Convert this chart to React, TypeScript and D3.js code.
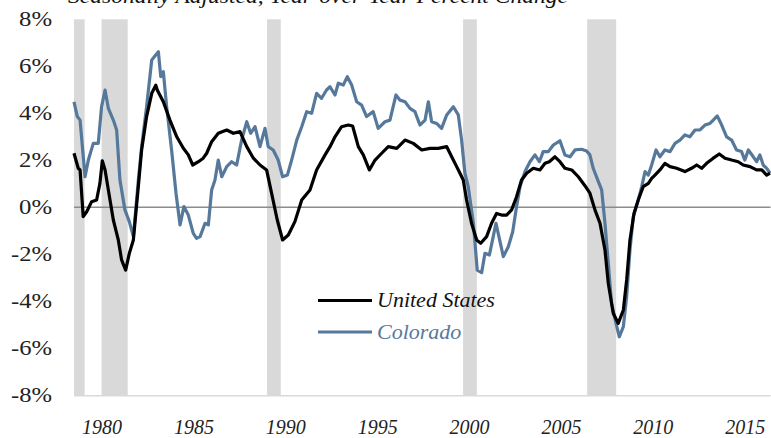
import * as d3 from 'd3';
import { useEffect } from 'react';

type Point = [number, number]; // [year, pct]

const title = 'Seasonally Adjusted, Year-over-Year Percent Change';

const yTicks = [-8, -6, -4, -2, 0, 2, 4, 6, 8];
const xTicks = [1980, 1985, 1990, 1995, 2000, 2005, 2010, 2015];

// recession periods (start, end) in fractional years
const recessions: Point[] = [
  [1980.0, 1980.58],
  [1981.5, 1982.92],
  [1990.5, 1991.25],
  [2001.17, 2001.92],
  [2007.92, 2009.5],
];

const usSeries: Point[] = [
  [1980.0, 2.3], [1980.23, 1.66], [1980.33, 1.59], [1980.5, -0.4], [1980.69, -0.19],
  [1980.96, 0.24], [1981.23, 0.31], [1981.41, 1.02], [1981.54, 1.98], [1981.69, 1.59],
  [1981.96, 0.31], [1982.14, -0.54], [1982.41, -1.39], [1982.59, -2.24], [1982.81, -2.67],
  [1983.01, -1.96], [1983.23, -1.39], [1983.5, 0.88], [1983.68, 2.44], [1983.95, 3.86],
  [1984.23, 4.85], [1984.45, 5.2], [1984.53, 4.99], [1984.86, 4.49], [1985.22, 3.71],
  [1985.59, 3.0], [1985.95, 2.51], [1986.22, 2.23], [1986.46, 1.8], [1986.77, 1.94],
  [1987.03, 2.09], [1987.22, 2.3], [1987.49, 2.79], [1987.85, 3.15], [1988.31, 3.29],
  [1988.67, 3.15], [1989.03, 3.22], [1989.4, 2.58], [1989.76, 2.09], [1990.12, 1.8],
  [1990.48, 1.59], [1990.75, 0.6], [1991.06, -0.54], [1991.35, -1.39], [1991.66, -1.18],
  [1992.02, -0.61], [1992.39, 0.31], [1992.84, 0.74], [1993.2, 1.59], [1993.66, 2.23],
  [1993.93, 2.58], [1994.2, 3.0], [1994.56, 3.43], [1994.92, 3.5], [1995.16, 3.46],
  [1995.47, 2.58], [1995.74, 2.23], [1996.07, 1.59], [1996.38, 2.01], [1996.74, 2.3],
  [1997.1, 2.58], [1997.56, 2.51], [1998.01, 2.86], [1998.46, 2.72], [1998.92, 2.44],
  [1999.37, 2.51], [1999.82, 2.51], [2000.28, 2.58], [2000.55, 2.15], [2000.82, 1.73],
  [2001.0, 1.45], [2001.18, 1.16], [2001.36, 0.31], [2001.63, -0.68], [2001.91, -1.39],
  [2002.13, -1.53], [2002.45, -1.25], [2002.72, -0.68], [2002.99, -0.26], [2003.27, -0.33],
  [2003.54, -0.33], [2003.81, -0.11], [2004.08, 0.45], [2004.35, 1.16], [2004.63, 1.45],
  [2004.99, 1.66], [2005.35, 1.59], [2005.63, 1.87], [2005.86, 1.94], [2006.17, 2.15],
  [2006.44, 1.94], [2006.71, 1.66], [2007.08, 1.59], [2007.44, 1.3], [2007.8, 0.92],
  [2008.07, 0.6], [2008.35, -0.12], [2008.62, -0.68], [2008.89, -1.82], [2009.07, -3.23],
  [2009.34, -4.51], [2009.61, -4.94], [2009.89, -4.37], [2010.07, -3.09], [2010.25, -1.39],
  [2010.47, -0.26], [2010.7, 0.31], [2010.97, 0.88], [2011.25, 1.02], [2011.43, 1.23],
  [2011.61, 1.37], [2011.88, 1.59], [2012.15, 1.87], [2012.43, 1.73], [2012.79, 1.66],
  [2013.24, 1.52], [2013.6, 1.66], [2013.88, 1.8], [2014.15, 1.66], [2014.42, 1.87],
  [2014.78, 2.09], [2015.11, 2.27], [2015.42, 2.09], [2015.78, 2.01], [2016.14, 1.94],
  [2016.41, 1.8], [2016.78, 1.73], [2017.14, 1.59], [2017.42, 1.59], [2017.69, 1.37],
  [2017.87, 1.45],
];

const coSeries: Point[] = [
  [1980.0, 4.49], [1980.18, 3.86], [1980.33, 3.71], [1980.6, 1.3], [1980.78, 2.01],
  [1981.05, 2.72], [1981.32, 2.72], [1981.5, 4.28], [1981.69, 4.99], [1981.87, 4.21],
  [1982.14, 3.71], [1982.32, 3.29], [1982.5, 1.16], [1982.77, -0.11], [1983.01, -0.61],
  [1983.23, -1.25], [1983.5, 1.16], [1983.68, 2.58], [1983.95, 4.28], [1984.23, 6.27],
  [1984.59, 6.62], [1984.72, 5.56], [1984.86, 5.77], [1985.04, 4.28], [1985.31, 2.44],
  [1985.55, 0.6], [1985.77, -0.75], [1985.98, 0.03], [1986.22, -0.33], [1986.49, -1.11],
  [1986.67, -1.32], [1986.86, -1.25], [1987.13, -0.68], [1987.31, -0.75], [1987.49, 0.74],
  [1987.67, 1.16], [1987.85, 2.01], [1988.04, 1.3], [1988.31, 1.73], [1988.58, 1.94],
  [1988.85, 1.8], [1989.12, 2.86], [1989.4, 3.64], [1989.61, 3.15], [1989.85, 3.43],
  [1990.12, 2.58], [1990.39, 3.36], [1990.57, 2.58], [1990.84, 2.44], [1991.11, 2.01],
  [1991.35, 1.3], [1991.61, 1.37], [1991.84, 2.01], [1992.12, 2.86], [1992.39, 3.43],
  [1992.66, 4.07], [1992.93, 4.0], [1993.2, 4.85], [1993.47, 4.64], [1993.74, 4.99],
  [1993.93, 5.13], [1994.2, 4.78], [1994.38, 5.28], [1994.65, 5.2], [1994.87, 5.56],
  [1995.11, 5.2], [1995.38, 4.49], [1995.65, 4.35], [1995.92, 3.86], [1996.28, 4.07],
  [1996.55, 3.36], [1996.92, 3.64], [1997.19, 3.71], [1997.52, 4.78], [1997.74, 4.56],
  [1998.01, 4.49], [1998.28, 4.21], [1998.55, 4.07], [1998.82, 3.5], [1999.1, 3.71],
  [1999.28, 4.49], [1999.46, 3.64], [1999.73, 3.57], [2000.0, 3.36], [2000.28, 3.93],
  [2000.64, 4.28], [2000.91, 3.93], [2001.09, 2.86], [2001.27, 1.45], [2001.45, 0.88],
  [2001.73, -0.68], [2001.94, -2.67], [2002.18, -2.78], [2002.36, -1.96], [2002.6, -2.03],
  [2002.81, -1.25], [2002.96, -0.68], [2003.18, -1.46], [2003.36, -2.1], [2003.63, -1.68],
  [2003.87, -1.04], [2004.08, 0.03], [2004.27, 0.88], [2004.54, 1.52], [2004.81, 1.94],
  [2005.08, 2.23], [2005.32, 1.94], [2005.53, 2.37], [2005.81, 2.37], [2006.08, 2.65],
  [2006.44, 2.83], [2006.71, 2.23], [2006.99, 2.15], [2007.26, 2.44], [2007.62, 2.47],
  [2007.89, 2.4], [2008.07, 2.23], [2008.25, 1.66], [2008.53, 1.09], [2008.71, 0.74],
  [2008.89, -0.68], [2009.07, -2.38], [2009.25, -4.09], [2009.49, -4.94], [2009.67, -5.51],
  [2009.89, -5.08], [2010.07, -3.8], [2010.25, -1.82], [2010.43, -0.4], [2010.7, 0.31],
  [2010.89, 0.88], [2011.07, 1.52], [2011.25, 1.37], [2011.43, 1.8], [2011.67, 2.44],
  [2011.88, 2.15], [2012.15, 2.44], [2012.43, 2.37], [2012.7, 2.72], [2012.97, 2.86],
  [2013.24, 3.08], [2013.51, 3.0], [2013.79, 3.29], [2014.06, 3.29], [2014.33, 3.5],
  [2014.6, 3.57], [2014.78, 3.71], [2015.0, 3.89], [2015.24, 3.5], [2015.51, 3.0],
  [2015.78, 2.86], [2016.05, 2.44], [2016.32, 2.37], [2016.5, 2.01], [2016.69, 2.44],
  [2016.96, 2.15], [2017.14, 1.94], [2017.32, 2.23], [2017.5, 1.8], [2017.69, 1.66],
  [2017.87, 1.45],
];

const W = 771;
const H = 438;
const US_COLOR = '#000000';
const CO_COLOR = '#56799b';
const FONT = "'Liberation Serif'";
const serif = { fontFamily: FONT };

const App = () => {
  useEffect(() => {
    document.body.style.margin = '0';
  }, []);

  const x = d3.scaleLinear().domain([1980, 2018]).range([74, 772.4]);
  const y = d3.scaleLinear().domain([-8, 8]).range([395.3, 19.3]);
  const line = d3.line<Point>().x(d => x(d[0])).y(d => y(d[1]));
  const xEnd = x(2017.9);

  return (
    <svg width={W} height={H} fontFamily={FONT}>
      <style>{`text { font-family: 'Liberation Serif', serif !important; }`}</style>
      <text x={68} y={3} style={serif} fontStyle="italic" fontSize={22}
        textLength={500} lengthAdjust="spacingAndGlyphs" fill="#111">{title}</text>

      {recessions.map((r, i) => (
        <rect key={i} x={x(r[0])} y={y(8)} width={x(r[1]) - x(r[0])}
          height={y(-8) - y(8)} fill="#d9d9d9" />
      ))}

      <line x1={x(1980)} x2={xEnd} y1={y(-8) + 0.5} y2={y(-8) + 0.5} stroke="#d9d9d9" strokeWidth={1.5} />
      <line x1={x(1980)} x2={xEnd} y1={y(0)} y2={y(0)} stroke="#8c8c8c" strokeWidth={1.5} />

      {yTicks.map(t => (
        <text key={t} x={52} y={y(t) + 7} textAnchor="end" style={serif} fontSize={21}
          textLength={t < 0 ? 41 : 33} lengthAdjust="spacingAndGlyphs" fill="#222">{`${t}%`}</text>
      ))}

      {xTicks.map(t => (
        <text key={t} x={x(t) + 28} y={434} textAnchor="middle" style={serif}
          fontStyle="italic" fontSize={21} textLength={40} lengthAdjust="spacingAndGlyphs"
          fill="#222">{t}</text>
      ))}

      <path d={line(coSeries) ?? ''} fill="none" stroke={CO_COLOR} strokeWidth={3.2}
        strokeLinejoin="round" />
      <path d={line(usSeries) ?? ''} fill="none" stroke={US_COLOR} strokeWidth={3.2}
        strokeLinejoin="round" />

      <line x1={318} x2={372} y1={300.5} y2={300.5} stroke={US_COLOR} strokeWidth={3} />
      <text x={377} y={307} style={serif} fontStyle="italic" fontSize={22} fill="#111">United States</text>
      <line x1={318} x2={372} y1={332} y2={332} stroke={CO_COLOR} strokeWidth={3} />
      <text x={377} y={339} style={serif} fontStyle="italic" fontSize={22} fill={CO_COLOR}>Colorado</text>
    </svg>
  );
};

export default App;
